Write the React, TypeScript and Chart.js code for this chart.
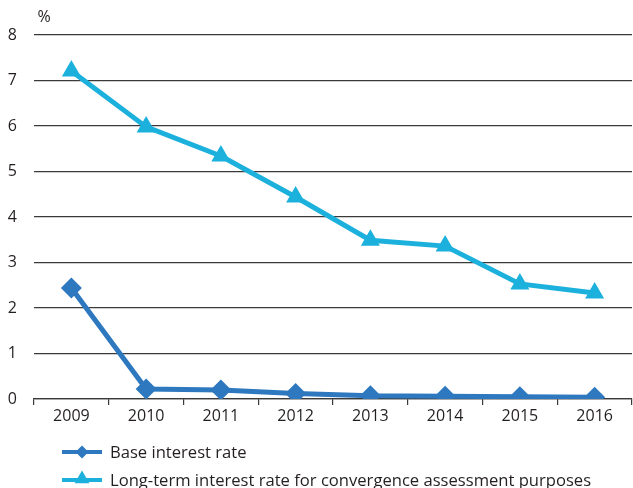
import React, { useEffect, useRef } from "react";
import { Chart, registerables } from "chart.js";

Chart.register(...registerables);

const years = ["2009", "2010", "2011", "2012", "2013", "2014", "2015", "2016"];
const baseRate = [2.44, 0.22, 0.2, 0.12, 0.07, 0.06, 0.05, 0.04];
const longTermRate = [7.21, 5.98, 5.34, 4.44, 3.49, 3.36, 2.53, 2.33];
const yTicks = [0, 1, 2, 3, 4, 5, 6, 7, 8];
const seriesNames = [
  "Base interest rate",
  "Long-term interest rate for convergence assessment purposes",
];
const unitLabel = "%";

const BASE_COLOR = "#2e78bf";
const LONG_COLOR = "#1cb1dd";
const TEXT_COLOR = "#231f20";
const GRID_COLOR = "#3a3a3a";
const FONT = "'Open Sans', 'Noto Sans', sans-serif";

function drawMarker(ctx: CanvasRenderingContext2D, style: string, x: number, y: number, r: number, color: string) {
  ctx.save();
  ctx.fillStyle = color;
  ctx.beginPath();
  if (style === "rectRot") {
    ctx.moveTo(x - r, y);
    ctx.lineTo(x, y - r);
    ctx.lineTo(x + r, y);
    ctx.lineTo(x, y + r);
  } else {
    const h = Math.sqrt(3) / 2 * r;
    ctx.moveTo(x, y - r);
    ctx.lineTo(x + h, y + r / 2);
    ctx.lineTo(x - h, y + r / 2);
  }
  ctx.closePath();
  ctx.fill();
  ctx.restore();
}

const customDecor = {
  id: "customDecor",
  afterDraw(chart: any) {
    const ctx: CanvasRenderingContext2D = chart.ctx;
    ctx.save();
    ctx.fillStyle = TEXT_COLOR;
    ctx.font = `16px ${FONT}`;
    ctx.textAlign = "center";
    ctx.textBaseline = "middle";
    ctx.fillText(unitLabel, 44, 17);

    chart.data.datasets.forEach((ds: any, i: number) => {
      const y = 452 + i * 28;
      ctx.strokeStyle = ds.borderColor;
      ctx.lineWidth = 4;
      ctx.beginPath();
      ctx.moveTo(62, y);
      ctx.lineTo(102, y);
      ctx.stroke();
      drawMarker(ctx, ds.pointStyle, 82, ds.pointStyle === "rectRot" ? y : y - 1, ds.pointStyle === "rectRot" ? 6.5 : 8.5, ds.borderColor);
      ctx.fillStyle = TEXT_COLOR;
      ctx.font = `16.6px ${FONT}`;
      ctx.textAlign = "left";
      ctx.textBaseline = "middle";
      ctx.fillText(ds.label, 110, y + 1);
    });
    ctx.restore();
  },
};

export default function App() {
  const ref = useRef<HTMLCanvasElement | null>(null);

  useEffect(() => {
    document.body.style.margin = "0";
    if (!ref.current) return;
    const chart = new Chart(ref.current, {
      type: "line",
      data: {
        labels: years,
        datasets: [
          {
            label: seriesNames[0],
            data: baseRate,
            borderColor: BASE_COLOR,
            backgroundColor: BASE_COLOR,
            borderWidth: 5,
            pointStyle: "rectRot",
            pointRadius: 10.5,
            pointBorderWidth: 0,
            tension: 0,
          },
          {
            label: seriesNames[1],
            data: longTermRate,
            borderColor: LONG_COLOR,
            backgroundColor: LONG_COLOR,
            borderWidth: 5,
            pointStyle: "triangle",
            pointRadius: 11,
            pointBorderWidth: 0,
            tension: 0,
          },
        ],
      },
      options: {
        animation: false,
        responsive: false,
        maintainAspectRatio: false,
        layout: { autoPadding: false, padding: { top: 35, right: 1, left: 0, bottom: 0 } },
        plugins: {
          legend: { display: false },
          tooltip: { enabled: false },
        },
        scales: {
          x: {
            offset: true,
            afterFit: (s: any) => {
              s.height = 89;
              s.paddingLeft = 0;
              s.paddingRight = 0;
            },
            grid: {
              offset: true,
              drawOnChartArea: false,
              drawTicks: true,
              tickLength: 6,
              color: GRID_COLOR,
              lineWidth: 1.2,
            },
            border: { display: true, color: GRID_COLOR, width: 1.2 },
            ticks: {
              color: TEXT_COLOR,
              font: { family: FONT, size: 16 },
              padding: 2,
              maxRotation: 0,
            },
          },
          y: {
            min: 0,
            max: 8,
            afterFit: (s: any) => {
              s.width = 34;
            },
            afterBuildTicks: (s: any) => {
              s.ticks = yTicks.map((v) => ({ value: v }));
            },
            grid: {
              drawTicks: false,
              color: GRID_COLOR,
              lineWidth: 1.2,
            },
            border: { display: false },
            ticks: {
              color: TEXT_COLOR,
              font: { family: FONT, size: 16 },
              padding: 17,
            },
          },
        },
      },
      plugins: [customDecor],
    });
    return () => chart.destroy();
  }, []);

  return (
    <div style={{ position: "absolute", left: 0, top: 0, width: 633, height: 488 }}>
      <canvas ref={ref} width={633} height={488} style={{ width: 633, height: 488 }} />
    </div>
  );
}
